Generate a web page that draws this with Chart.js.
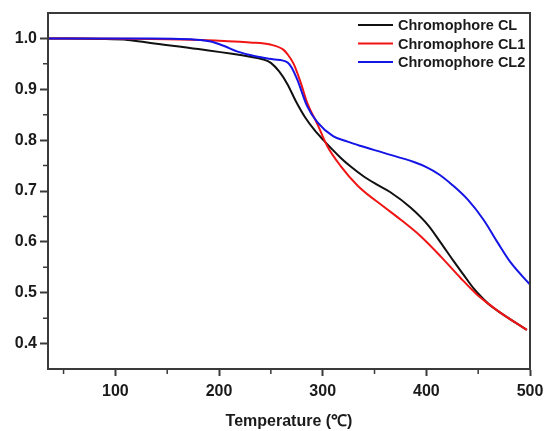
<!DOCTYPE html>
<html>
<head>
<meta charset="utf-8">
<style>
	html, body { margin: 0; padding: 0; background: #fff; }
	#wrap { width: 546px; height: 431px; }
</style>
<script src="https://cdn.jsdelivr.net/npm/chart.js@4/dist/chart.umd.min.js"></script>
</head>
<body>
<div id="wrap"><canvas id="chart" width="546" height="431"></canvas></div>
<script>
(function () {
	'use strict';

	// --- Data ---

	const seriesNames = ['Chromophore CL', 'Chromophore CL1', 'Chromophore CL2'];

	const clTemp = [35, 85, 112, 134, 180, 230, 242, 250, 258, 266, 274, 283, 292, 300.7, 317, 327, 340, 352, 365, 385, 402, 414, 426, 436, 445, 452, 460, 472, 497];
	const clMass = [1.0, 0.999, 0.997, 0.991, 0.979, 0.964, 0.959, 0.952, 0.935, 0.91, 0.877, 0.845, 0.82, 0.80, 0.766, 0.748, 0.728, 0.713, 0.698, 0.667, 0.632, 0.598, 0.563, 0.535, 0.51, 0.494, 0.478, 0.46, 0.427];

	const cl1Temp = [35, 134, 182, 230, 249.5, 262, 266, 272, 278.5, 285, 295, 304.5, 317, 334, 359, 375, 394, 414, 433, 449, 460, 472, 497];
	const cl1Mass = [1.0, 0.999, 0.997, 0.992, 0.988, 0.978, 0.969, 0.95, 0.915, 0.874, 0.831, 0.788, 0.75, 0.71, 0.669, 0.644, 0.612, 0.571, 0.529, 0.496, 0.478, 0.46, 0.427];

	const cl2Temp = [35, 134, 182, 192, 205, 218, 235, 252, 266, 270, 275.5, 285, 295, 310, 324, 336, 359, 388, 400, 412, 425, 440, 455, 469, 481.5, 500];
	const cl2Mass = [1.0, 1.0, 0.997, 0.994, 0.985, 0.974, 0.965, 0.959, 0.953, 0.943, 0.919, 0.867, 0.835, 0.808, 0.797, 0.789, 0.775, 0.757, 0.747, 0.733, 0.712, 0.683, 0.644, 0.598, 0.559, 0.516];

	const xTicks = [100, 200, 300, 400, 500];
	const xMinorTicks = [50, 150, 250, 350, 450];
	const yTicks = [0.4, 0.5, 0.6, 0.7, 0.8, 0.9, 1.0];
	const yMinorTicks = [0.45, 0.55, 0.65, 0.75, 0.85, 0.95];

	const AXIS_COLOR = '#3a3a3a';
	const TEXT_COLOR = '#1a1a1a';
	const FONT = "'Liberation Sans', Arial, sans-serif";
	const lineColors = ['#111111', '#f01414', '#1414e6'];

	function toPoints(xs, ys) {
		return xs.map((x, i) => ({ x: x, y: ys[i] }));
	}

	// --- Plugins: frame, minor ticks, legend ---

	const framePlugin = {
		id: 'frame',
		afterDraw(chart) {
			const { ctx, chartArea: a, scales } = chart;
			ctx.save();
			ctx.strokeStyle = AXIS_COLOR;
			ctx.lineWidth = 2;
			ctx.strokeRect(a.left, a.top, a.right - a.left, a.bottom - a.top);

			// minor ticks, outward
			ctx.lineWidth = 1.5;
			ctx.beginPath();
			xMinorTicks.forEach(v => {
				const px = scales.x.getPixelForValue(v);
				ctx.moveTo(px, a.bottom);
				ctx.lineTo(px, a.bottom + 5);
			});
			yMinorTicks.forEach(v => {
				const py = scales.y.getPixelForValue(v);
				ctx.moveTo(a.left, py);
				ctx.lineTo(a.left - 5, py);
			});
			ctx.stroke();
			ctx.restore();
		},
	};

	const legendPlugin = {
		id: 'insideLegend',
		afterDraw(chart) {
			const { ctx, chartArea: a } = chart;
			const textX = a.right - 132;
			ctx.save();
			ctx.font = 'bold 14.5px ' + FONT;
			ctx.textBaseline = 'middle';
			ctx.textAlign = 'left';
			seriesNames.forEach((name, i) => {
				const y = a.top + 12 + i * 18.5;
				ctx.strokeStyle = lineColors[i];
				ctx.lineWidth = 2;
				ctx.beginPath();
				ctx.moveTo(textX - 40, y);
				ctx.lineTo(textX - 5, y);
				ctx.stroke();
				ctx.fillStyle = TEXT_COLOR;
				ctx.fillText(name, textX, y + 1);
			});
			ctx.restore();
		},
	};

	// --- Chart ---

	function makeDataset(label, xs, ys, color, order) {
		return {
			label: label,
			data: toPoints(xs, ys),
			borderColor: color,
			backgroundColor: color,
			borderWidth: 2,
			pointRadius: 0,
			cubicInterpolationMode: 'monotone',
			fill: false,
			order: order,
		};
	}

	new Chart(document.getElementById('chart'), {
		type: 'line',
		data: {
			datasets: [
				makeDataset(seriesNames[0], clTemp, clMass, lineColors[0], 2),
				makeDataset(seriesNames[1], cl1Temp, cl1Mass, lineColors[1], 1),
				makeDataset(seriesNames[2], cl2Temp, cl2Mass, lineColors[2], 0),
			],
		},
		options: {
			responsive: false,
			animation: false,
			devicePixelRatio: 1,
			layout: { padding: { top: 13, right: 16, left: 0, bottom: 0 } },
			plugins: {
				legend: { display: false },
				tooltip: { enabled: false },
			},
			scales: {
				x: {
					type: 'linear',
					min: 35,
					max: 500,
					afterBuildTicks(scale) {
						scale.ticks = xTicks.map(v => ({ value: v }));
					},
					afterFit(scale) {
						scale.height = 62;
						scale.paddingLeft = 0;
						scale.paddingRight = 0;
					},
					grid: {
						drawOnChartArea: false,
						drawTicks: true,
						tickLength: 7,
						tickWidth: 2,
						tickColor: AXIS_COLOR,
					},
					border: { display: true, color: AXIS_COLOR, width: 2 },
					ticks: {
						color: TEXT_COLOR,
						padding: 6,
						maxRotation: 0,
						font: { family: FONT, size: 16, weight: 'bold' },
						callback: v => String(v),
					},
					title: {
						display: true,
						text: 'Temperature (℃)',
						color: TEXT_COLOR,
						padding: { top: 0, bottom: 0 },
						font: { family: FONT, size: 16, weight: 'bold' },
					},
				},
				y: {
					type: 'linear',
					min: 0.35,
					max: 1.05,
					afterBuildTicks(scale) {
						scale.ticks = yTicks.map(v => ({ value: v }));
					},
					afterFit(scale) {
						scale.width = 48;
						scale.paddingTop = 0;
						scale.paddingBottom = 0;
					},
					grid: {
						drawOnChartArea: false,
						drawTicks: true,
						tickLength: 8,
						tickWidth: 2,
						tickColor: AXIS_COLOR,
					},
					border: { display: true, color: AXIS_COLOR, width: 2 },
					ticks: {
						color: TEXT_COLOR,
						padding: 3,
						font: { family: FONT, size: 16, weight: 'bold' },
						callback: v => v.toFixed(1),
					},
				},
			},
		},
		plugins: [framePlugin, legendPlugin],
	});
})();
</script>
</body>
</html>
